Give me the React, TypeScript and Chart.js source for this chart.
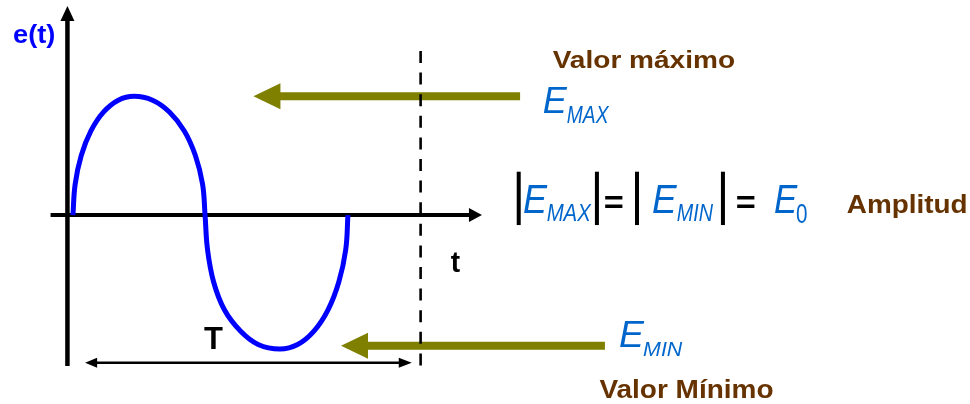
import React, { useEffect, useRef } from "react";
import { Chart, registerables } from "chart.js";

Chart.register(...registerables);

// Waveform e(t): t in periods, e relative to E_MAX
const curveT = [0.004, 0.012, 0.034, 0.069, 0.115, 0.168, 0.225, 0.292, 0.353, 0.407, 0.447, 0.473, 0.482, 0.491, 0.513, 0.552, 0.61, 0.674, 0.753, 0.817, 0.876, 0.927, 0.966, 0.991, 0.999];
const curveE = [0, 0.26, 0.501, 0.708, 0.868, 0.967, 1.0, 0.967, 0.868, 0.708, 0.501, 0.26, 0, -0.292, -0.563, -0.797, -0.976, -1.089, -1.127, -1.089, -0.976, -0.797, -0.563, -0.292, 0];

// Reference levels marked by the arrows
const E_MAX = 1.0;
const E_MIN = -1.1;
// Period arrow span and the dashed marker time
const periodSpan = [0.048, 1.23];
const markerT = 1.262;

const FONT = '"Liberation Sans", Arial, Helvetica, sans-serif';
const BROWN = "#663300";
const OLIVE = "#808000";
const EBLUE = "#0066CC";

type TextSpec = { text: string; font: string; color: string; t0: number; t1: number; e: number; mid?: boolean };

const texts: TextSpec[] = [
  { text: "e(t)", font: `bold 25px ${FONT}`, color: "#0000FF", t0: -0.213, t1: -0.061, e: 1.452 },
  { text: "Valor máximo", font: `bold 24.5px ${FONT}`, color: BROWN, t0: 1.74, t1: 2.4, e: 1.235 },
  { text: "Valor Mínimo", font: `bold 25px ${FONT}`, color: BROWN, t0: 1.909, t1: 2.538, e: -1.537 },
  { text: "Amplitud", font: `bold 26px ${FONT}`, color: BROWN, t0: 2.804, t1: 3.238, e: 0.015 },
  { text: "T", font: `bold 32px ${FONT}`, color: "#000000", t0: 0.478, t1: 0.548, e: -1.13 },
  { text: "t", font: `bold 30px ${FONT}`, color: "#000000", t0: 1.371, t1: 1.405, e: -0.477 },
  { text: "E", font: `italic 36px ${FONT}`, color: EBLUE, t0: 1.708, t1: 1.795, e: 0.856 },
  { text: "MAX", font: `italic 23px ${FONT}`, color: EBLUE, t0: 1.791, t1: 1.947, e: 0.777 },
  { text: "E", font: `italic 40px ${FONT}`, color: EBLUE, t0: 1.636, t1: 1.724, e: 0.02 },
  { text: "MAX", font: `italic 24px ${FONT}`, color: EBLUE, t0: 1.718, t1: 1.881, e: -0.047 },
  { text: "E", font: `italic 40px ${FONT}`, color: EBLUE, t0: 2.103, t1: 2.193, e: 0.02 },
  { text: "MIN", font: `italic 24px ${FONT}`, color: EBLUE, t0: 2.189, t1: 2.322, e: -0.047 },
  { text: "E", font: `italic 40px ${FONT}`, color: EBLUE, t0: 2.544, t1: 2.629, e: 0.02 },
  { text: "0", font: `27px ${FONT}`, color: EBLUE, t0: 2.623, t1: 2.659, e: -0.067 },
  { text: "E", font: `italic 36px ${FONT}`, color: EBLUE, t0: 1.984, t1: 2.074, e: -1.108 },
  { text: "MIN", font: `italic 21px ${FONT}`, color: EBLUE, t0: 2.067, t1: 2.212, e: -1.186 },
  { text: "=", font: `bold 32px ${FONT}`, color: "#000000", t0: 1.929, t1: 1.995, e: 0.112, mid: true },
  { text: "=", font: `bold 32px ${FONT}`, color: "#000000", t0: 2.406, t1: 2.472, e: 0.112, mid: true },
];

const absBars = [1.617, 1.9, 2.045, 2.356];

function arrowHead(ctx: CanvasRenderingContext2D, tipX: number, tipY: number, dx: number, dy: number, len: number, half: number) {
  const bx = tipX - dx * len;
  const by = tipY - dy * len;
  const nx = -dy, ny = dx;
  ctx.beginPath();
  ctx.moveTo(tipX, tipY);
  ctx.lineTo(bx + nx * half, by + ny * half);
  ctx.lineTo(bx - nx * half, by - ny * half);
  ctx.closePath();
  ctx.fill();
}

const diagramPlugin = {
  id: "diagram",
  beforeDatasetsDraw(chart: any) {
    const ctx: CanvasRenderingContext2D = chart.ctx;
    const x = chart.scales.x;
    const y = chart.scales.y;
    const X = (v: number) => x.getPixelForValue(v);
    const Y = (v: number) => y.getPixelForValue(v);
    ctx.save();
    ctx.fillStyle = "#000";
    ctx.strokeStyle = "#000";
    ctx.lineCap = "butt";
    // vertical axis
    const ax = X(-0.016);
    ctx.lineWidth = 4.5;
    ctx.beginPath();
    ctx.moveTo(ax, Y(-1.27));
    ctx.lineTo(ax, Y(1.759) + 14);
    ctx.stroke();
    arrowHead(ctx, ax, Y(1.759), 0, -1, 15, 7);
    // horizontal axis
    ctx.lineWidth = 4;
    ctx.beginPath();
    ctx.moveTo(X(-0.077), Y(0));
    ctx.lineTo(X(1.484) - 12, Y(0));
    ctx.stroke();
    arrowHead(ctx, X(1.484), Y(0), 1, 0, 13, 7);
    // period double arrow
    const py = Y(-1.243);
    ctx.lineWidth = 2.7;
    ctx.beginPath();
    ctx.moveTo(X(periodSpan[0]) + 10, py);
    ctx.lineTo(X(periodSpan[1]) - 10, py);
    ctx.stroke();
    arrowHead(ctx, X(periodSpan[0]), py, -1, 0, 12, 5);
    arrowHead(ctx, X(periodSpan[1]), py, 1, 0, 13, 5);
    // olive arrows
    ctx.fillStyle = OLIVE;
    ctx.strokeStyle = OLIVE;
    ctx.lineWidth = 8;
    const olive = [
      { tip: 0.657, tail: 1.622, e: E_MAX },
      { tip: 0.974, tail: 1.929, e: E_MIN },
    ];
    for (const a of olive) {
      const yy = Y(a.e);
      ctx.beginPath();
      ctx.moveTo(X(a.tail), yy);
      ctx.lineTo(X(a.tip) + 25, yy);
      ctx.stroke();
      arrowHead(ctx, X(a.tip), yy, -1, 0, 27, 13);
    }
    // dashed marker
    ctx.strokeStyle = "#000";
    ctx.lineWidth = 2.6;
    ctx.setLineDash([12, 9.6]);
    ctx.beginPath();
    ctx.moveTo(X(markerT), Y(1.381));
    ctx.lineTo(X(markerT), Y(-1.321));
    ctx.stroke();
    ctx.setLineDash([]);
    // absolute value bars
    ctx.lineWidth = 4;
    for (const b of absBars) {
      ctx.beginPath();
      ctx.moveTo(X(b), Y(0.365));
      ctx.lineTo(X(b), Y(-0.084));
      ctx.stroke();
    }
    ctx.restore();
  },
  afterDatasetsDraw(chart: any) {
    const ctx: CanvasRenderingContext2D = chart.ctx;
    const x = chart.scales.x;
    const y = chart.scales.y;
    ctx.save();
    ctx.textAlign = "left";
    ctx.textBaseline = "alphabetic";
    for (const s of texts) {
      ctx.font = s.font;
      ctx.fillStyle = s.color;
      const m = ctx.measureText(s.text);
      const inkW = m.actualBoundingBoxLeft + m.actualBoundingBoxRight;
      const p0 = x.getPixelForValue(s.t0);
      const p1 = x.getPixelForValue(s.t1);
      const sx = (p1 - p0) / inkW;
      const py = y.getPixelForValue(s.e);
      const off = s.mid ? (m.actualBoundingBoxAscent - m.actualBoundingBoxDescent) / 2 : 0;
      ctx.save();
      ctx.translate(p0 + m.actualBoundingBoxLeft * sx, py + off);
      ctx.scale(sx, 1);
      ctx.fillText(s.text, 0, 0);
      ctx.restore();
    }
    ctx.restore();
  },
};

export default function App() {
  const ref = useRef<HTMLCanvasElement | null>(null);
  useEffect(() => {
    if (!ref.current) return;
    const chart = new Chart(ref.current, {
      type: "line",
      data: {
        datasets: [
          {
            data: curveT.map((t, i) => ({ x: t, y: curveE[i] })),
            borderColor: "#0000FF",
            borderWidth: 5,
            pointRadius: 0,
            tension: 0.4,
            fill: false,
            borderCapStyle: "butt",
            borderJoinStyle: "round",
          },
        ],
      },
      options: {
        animation: false,
        responsive: false,
        devicePixelRatio: 1,
        layout: { padding: 0 },
        plugins: { legend: { display: false }, tooltip: { enabled: false }, title: { display: false } },
        scales: {
          x: { type: "linear", min: -0.26, max: 3.25, display: false },
          y: { type: "linear", min: -1.59, max: 1.81, display: false },
        },
      },
      plugins: [diagramPlugin],
    } as any);
    return () => chart.destroy();
  }, []);
  return (
    <div style={{ position: "fixed", left: 0, top: 0, width: 970, height: 404, background: "#fff" }}>
      <canvas ref={ref} width={970} height={404} style={{ display: "block", width: 970, height: 404 }} />
    </div>
  );
}
